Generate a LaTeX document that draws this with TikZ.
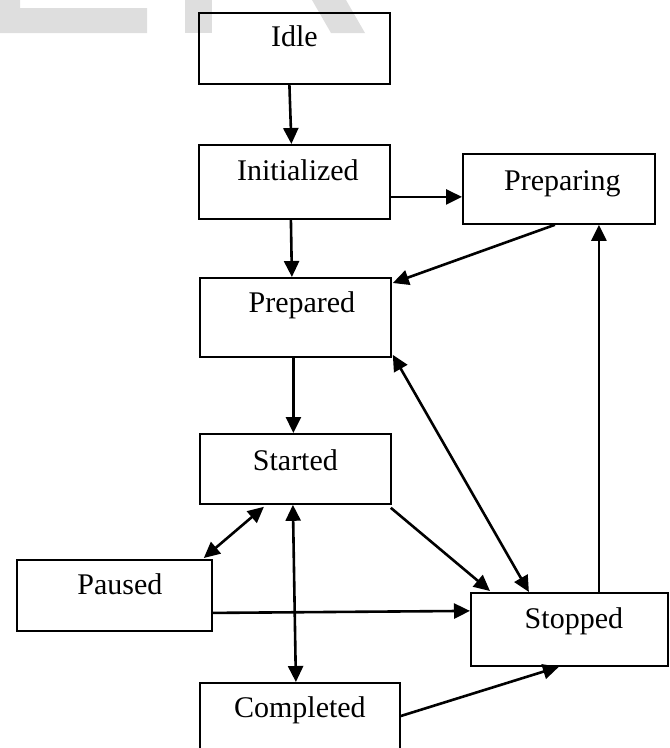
\documentclass[tikz,border=0pt]{standalone}
\usepackage{fontspec}
\setmainfont{Liberation Serif}
\usetikzlibrary{arrows.meta}
\definecolor{wm}{RGB}{222,222,222}
\begin{document}
\begin{tikzpicture}[x=1pt,y=-1pt,
  box/.style={draw, line width=1.8pt, rectangle, inner sep=0pt, anchor=north west,
    font=\fontsize{30}{35}\selectfont},
  arr/.style={line width=2.6pt, -{Triangle[length=16pt,width=15pt]}},
  darr/.style={line width=2.6pt, {Triangle[length=16pt,width=15pt]}-{Triangle[length=16pt,width=15pt]}}]
\useasboundingbox (0,0) rectangle (670,748);
\clip (0,0) rectangle (670,748);
% watermark
\fill[wm] (0,0) -- (20,0) -- (20,8) -- (147,8) -- (147,33) -- (0,33) -- cycle;
\fill[wm] (185,0) rectangle (212,33);
\fill[wm] (312,0) -- (346,0) -- (365,33) -- (331,33) -- cycle;
% states
\node[box, minimum width=191pt, text height=34pt, text depth=37pt] (idle) at (198,12) {Idle};
\node[box, minimum width=191pt, text height=36pt, text depth=38pt] (init) at (198,144) {\hspace*{7pt}Initialized};
\node[box, minimum width=192pt, text height=37pt, text depth=33pt] (preparing) at (462,153) {\hspace*{7pt}Preparing};
\node[box, minimum width=191pt, text height=35pt, text depth=44pt] (prepared) at (199,277) {\hspace*{13pt}Prepared};
\node[box, minimum width=191pt, text height=37pt, text depth=33pt] (started) at (199,433) {Started};
\node[box, minimum width=195pt, text height=35pt, text depth=36pt] (paused) at (16,559) {\hspace*{11pt}Paused};
\node[box, minimum width=197pt, text height=36pt, text depth=37pt] (stopped) at (470,592) {\hspace*{9pt}Stopped};
\node[box, minimum width=200pt, text height=35pt, text depth=60pt] (completed) at (199,682) {Completed};
% transitions
\draw[arr] ([xshift=-5pt]idle.south) -- ([xshift=-3pt]init.north);
\draw[arr] ([yshift=-15pt]init.east) -- ([yshift=-8pt]preparing.west);
\draw[arr] ([xshift=-3.5pt]init.south) -- ([xshift=-3.5pt]prepared.north);
\draw[arr] ([xshift=-4pt]preparing.south) -- ([xshift=1pt,yshift=-6pt]prepared.north east);
\draw[arr] ([xshift=-2pt]prepared.south) -- ([xshift=-2pt]started.north);
\draw[darr] ([xshift=1pt,yshift=3pt]prepared.south east) -- ([xshift=-40.5pt]stopped.north);
\draw[darr] ([xshift=-31.5pt,yshift=-2pt]started.south) -- ([xshift=-9pt,yshift=1pt]paused.north east);
\draw[darr] ([xshift=-2.5pt]started.south) -- ([xshift=-4pt]completed.north);
\draw[arr] ([xshift=-1pt,yshift=-3pt]started.south east) -- ([xshift=20pt,yshift=1pt]stopped.north west);
\draw[arr] ([yshift=-17.5pt]paused.east) -- ([yshift=18.5pt]stopped.west);
\draw[arr] ([yshift=-34pt]completed.north east) -- ([xshift=-10.5pt]stopped.south);
\draw[arr] ([xshift=29.5pt]stopped.north) -- ([xshift=40pt]preparing.south);
\end{tikzpicture}
\end{document}
